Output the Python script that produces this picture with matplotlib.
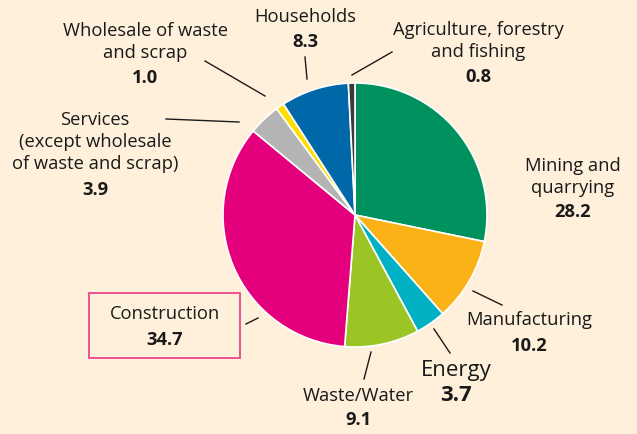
import matplotlib.pyplot as plt
import numpy as np

# sectors, clockwise from 12 o'clock
sectors = ['Mining and\nquarrying', 'Manufacturing', 'Energy', 'Waste/Water',
           'Construction', 'Services\n(except wholesale\nof waste and scrap)',
           'Wholesale of waste\nand scrap', 'Households',
           'Agriculture, forestry\nand fishing']
shares = [28.2, 10.2, 3.7, 9.1, 34.7, 3.9, 1.0, 8.3, 0.8]
colours = ['#00925e', '#fab217', '#00b1c4', '#9bc425', '#e4007c',
           '#b4b4b4', '#ffdd00', '#0067a9', '#3a3a3a']

bg = '#fef0da'
W, H = 637, 435
fig = plt.figure(figsize=(W / 100, H / 100), dpi=100, facecolor=bg)
ax = fig.add_axes([0, 0, 1, 1])
ax.set_facecolor(bg)

def Y(py):
    return H - py

ax.pie(shares, colors=colours, startangle=90, counterclock=False,
       center=(355, Y(216)), radius=132,
       wedgeprops=dict(edgecolor='white', linewidth=1.2))
ax.set_xlim(0, W)
ax.set_ylim(0, H)
ax.set_aspect('equal')
ax.axis('off')

plt.rcParams['font.family'] = ['Open Sans', 'DejaVu Sans']
txt = '#1a1a1a'

# label layout: x, name centre y, value y, leader line, font size
layout = [
    (573, 177, 212, None, 13.2),
    (529, 320, 346, ((473, 292), (502, 306)), 13.2),
    (456, 371, 396, ((434, 330), (450, 354)), 16),
    (358, 396, 420, ((371, 353), (364, 380)), 13.2),
    (165, 314, 340, ((246, 325), (258, 319)), 13.2),
    (95, 142, 190, ((166, 120), (239, 123)), 13.2),
    (145, 42, 78, ((205, 62), (265, 97)), 13.2),
    (305, 17, 42, ((305, 58), (307, 80)), 13.2),
    (478, 41, 77, ((392, 53), (352, 76)), 13.2),
]
for name, val, (x, yn, yv, lead, fs) in zip(sectors, shares, layout):
    ax.text(x, Y(yn), name, ha='center', va='center', fontsize=fs, color=txt,
            linespacing=1.32)
    ax.text(x, Y(yv), f'{val:.1f}', ha='center', va='center', fontsize=fs,
            fontweight='bold', color=txt)
    if lead:
        (x0, y0), (x1, y1) = lead
        ax.plot([x0, x1], [Y(y0), Y(y1)], color=txt, lw=1)

# box around the Construction label
ax.add_patch(plt.Rectangle((89, Y(359)), 151, 65, fill=False,
                           edgecolor='#e8478d', lw=1.3))

fig.savefig('out.png', dpi=100, facecolor=bg)
